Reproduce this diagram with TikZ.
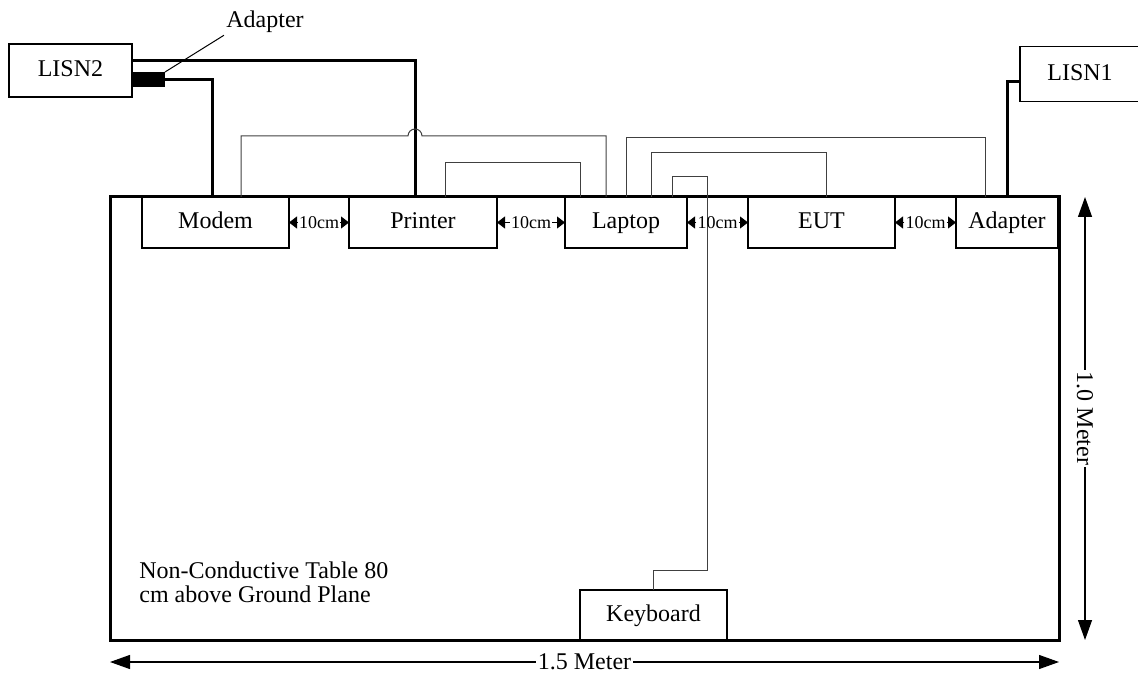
\documentclass[tikz,border=0pt]{standalone}
\usepackage{fontspec}
\setmainfont{Liberation Serif}
\usetikzlibrary{arrows.meta}
\begin{document}
\begin{tikzpicture}[x=0.5pt, y=-0.5pt,
  box/.style={draw, line width=0.6pt, minimum height=25.5pt, inner sep=0pt, outer sep=0pt, text height=8.8pt, text depth=2.7pt, font=\fontsize{12}{14}\selectfont},
  pwr/.style={line width=1.5pt},
  sig/.style={line width=0.5pt, black!75},
  gaplabel/.style={inner sep=0.4pt, font=\fontsize{9}{10}\selectfont},
  gaptip/.style={-{Triangle[length=4pt, width=6pt]}, line width=0.5pt},
  dim/.style={line width=0.6pt, {Triangle[length=10pt, width=7pt]}-{Triangle[length=10pt, width=7pt]}},
  dimlabel/.style={fill=white, inner sep=1pt, font=\fontsize{12}{14}\selectfont}]
\clip (0,0) rectangle (1138,673);
\node[draw, line width=1.5pt, outer sep=0pt, minimum width=474.5pt, minimum height=221.5pt] (table) at (584.5,418.5) {};
\node[align=left, anchor=west, inner sep=0pt, font=\fontsize{12}{12}\selectfont] (note) at (139,582) {Non-Conductive Table 80\\cm above Ground Plane};
\node[box, minimum width=73.5pt] (modem) at (215.5,222.5) {Modem};
\node[box, minimum width=74pt] (printer) at (423,222.5) {Printer};
\node[box, minimum width=61pt] (laptop) at (626,222.5) {Laptop};
\node[box, minimum width=73.5pt] (eut) at (821.5,222.5) {EUT};
\node[box, minimum width=51pt] (adapter) at (1007,222.5) {Adapter};
\node[box, minimum width=73.5pt, minimum height=25pt] (keyboard) at (653.5,615) {Keyboard};
\node[box, minimum width=61.5pt, minimum height=26.5pt] (lisn2) at (70.5,70.5) {LISN2};
\node[box, minimum width=60pt, minimum height=27.5pt] (lisn1) at (1080,74) {LISN1};
\node[fill, minimum width=16.5pt, minimum height=7.5pt, inner sep=0pt, outer sep=0pt] (plug) at (148.5,79.5) {};
\node[inner sep=1pt, font=\fontsize{12}{14}\selectfont] (plugname) at (265,22) {Adapter};
\draw[line width=0.5pt] (plug.north east) -- (plugname.south west);
\draw[pwr] ([yshift=4.75pt]lisn2.east) -| ([xshift=-4pt]printer.north);
\draw[pwr] (plug.east) -| ([xshift=-1.75pt]modem.north);
\draw[pwr] ([yshift=-4pt]lisn1.west) -| (adapter.north);
\coordinate (hop) at (415,136);
\draw[sig] ([xshift=12.75pt]modem.north) |- ([xshift=-3.5pt]hop) arc[start angle=180, end angle=0, radius=3.5pt] -| ([xshift=-10pt]laptop.north);
\draw[sig] ([xshift=11pt]printer.north) -- ++(0,-34) -| ([xshift=-23pt]laptop.north);
\draw[sig] (laptop.north) -- ++(0,-59) -| ([xshift=-11pt]adapter.north);
\draw[sig] ([xshift=12.5pt]laptop.north) -- ++(0,-44) -| ([xshift=2.25pt]eut.north);
\draw[sig] ([xshift=23pt]laptop.north) -- ++(0,-20) -| ++(35,393) -| (keyboard.north);
\path (modem.east) -- node[gaplabel] (gap1) {10cm} (printer.west);
\path (printer.east) -- node[gaplabel] (gap2) {10cm} (laptop.west);
\path (laptop.east) -- node[gaplabel] (gap3) {10cm} (eut.west);
\path (eut.east) -- node[gaplabel] (gap4) {10cm} (adapter.west);
\draw[gaptip] (gap1.west) -- (modem.east);
\draw[gaptip] (gap1.east) -- (printer.west);
\draw[gaptip] (gap2.west) -- (printer.east);
\draw[gaptip] (gap2.east) -- (laptop.west);
\draw[gaptip] (gap3.west) -- (laptop.east);
\draw[gaptip] (gap3.east) -- (eut.west);
\draw[gaptip] (gap4.west) -- (eut.east);
\draw[gaptip] (gap4.east) -- (adapter.west);
\draw[dim] ([yshift=-11pt]table.south west) -- node[dimlabel] (tablewidth) {1.5 Meter} ([yshift=-11pt]table.south east);
\draw[dim] ([xshift=13pt]table.north east) -- node[dimlabel, rotate=-90] (tableheight) {1.0 Meter} ([xshift=13pt]table.south east);
\end{tikzpicture}
\end{document}
